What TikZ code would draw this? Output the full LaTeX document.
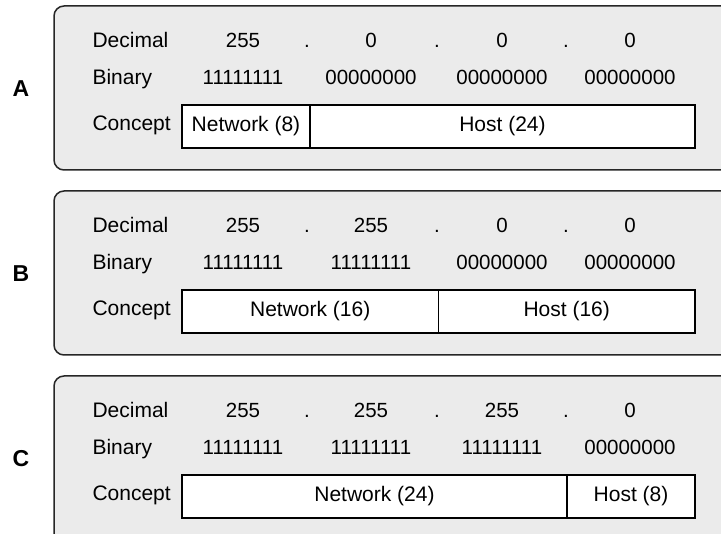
\documentclass[tikz,border=0pt]{standalone}
\usepackage{fontspec}
\setmainfont{Liberation Sans}
\definecolor{panelgray}{RGB}{235,235,235}

\begin{document}
\begin{tikzpicture}[x=1pt, y=-1pt,
  panel/.style={draw=black!85, fill=panelgray, line width=1.5pt, rounded corners=10pt},
  rowlabel/.style={anchor=base west, font=\fontsize{21}{25}\selectfont},
  value/.style={anchor=base, font=\fontsize{20.5}{25}\selectfont},
  part/.style={draw, fill=white, line width=1.5pt, anchor=west, outer sep=0pt, inner sep=0pt, minimum height=43pt, font=\fontsize{21}{25}\selectfont},
  letter/.style={font=\fontsize{23}{27}\selectfont\bfseries}
]
\useasboundingbox (0,0) rectangle (721,534);
\clip (0,0) rectangle (721,534);
% Panels
\draw[panel] (54,6) rectangle (760,170);
\draw[panel] (54,191) rectangle (760,355);
\draw[panel] (54,376) rectangle (760,570);
% Panel A
\node[letter] (letA) at (21,89) {A};
\node[rowlabel] (decA) at (89,48) {Decimal};
\node[rowlabel] (binA) at (89,85) {Binary};
\node[rowlabel] (conA) at (89,131) {Concept};
\node[value] (dA1) at (243,48) {255};
\node[value] (pA1) at (307,48) {.};
\node[value] (dA2) at (371,48) {0};
\node[value] (pA2) at (437,48) {.};
\node[value] (dA3) at (502,48) {0};
\node[value] (pA3) at (566,48) {.};
\node[value] (dA4) at (630,48) {0};
\node[value] (bA1) at (243,85) {11111111};
\node[value] (bA2) at (371,85) {00000000};
\node[value] (bA3) at (502,85) {00000000};
\node[value] (bA4) at (630,85) {00000000};
\node[part, minimum width=128pt] (netA) at (182,126.5) {Network (8)};
\node[part, minimum width=385pt] (hostA) at (netA.east) {Host (24)};
% Panel B
\node[letter] (letB) at (21,274) {B};
\node[rowlabel] (decB) at (89,233) {Decimal};
\node[rowlabel] (binB) at (89,270) {Binary};
\node[rowlabel] (conB) at (89,316) {Concept};
\node[value] (dB1) at (243,233) {255};
\node[value] (pB1) at (307,233) {.};
\node[value] (dB2) at (371,233) {255};
\node[value] (pB2) at (437,233) {.};
\node[value] (dB3) at (502,233) {0};
\node[value] (pB3) at (566,233) {.};
\node[value] (dB4) at (630,233) {0};
\node[value] (bB1) at (243,270) {11111111};
\node[value] (bB2) at (371,270) {11111111};
\node[value] (bB3) at (502,270) {00000000};
\node[value] (bB4) at (630,270) {00000000};
\node[part, minimum width=256.5pt] (netB) at (182,311.5) {Network (16)};
\node[part, minimum width=256.5pt] (hostB) at (netB.east) {Host (16)};
% Panel C
\node[letter] (letC) at (21,459) {C};
\node[rowlabel] (decC) at (89,418) {Decimal};
\node[rowlabel] (binC) at (89,455) {Binary};
\node[rowlabel] (conC) at (89,501) {Concept};
\node[value] (dC1) at (243,418) {255};
\node[value] (pC1) at (307,418) {.};
\node[value] (dC2) at (371,418) {255};
\node[value] (pC2) at (437,418) {.};
\node[value] (dC3) at (502,418) {255};
\node[value] (pC3) at (566,418) {.};
\node[value] (dC4) at (630,418) {0};
\node[value] (bC1) at (243,455) {11111111};
\node[value] (bC2) at (371,455) {11111111};
\node[value] (bC3) at (502,455) {11111111};
\node[value] (bC4) at (630,455) {00000000};
\node[part, minimum width=385pt] (netC) at (182,496.5) {Network (24)};
\node[part, minimum width=128pt] (hostC) at (netC.east) {Host (8)};
\end{tikzpicture}
\end{document}
